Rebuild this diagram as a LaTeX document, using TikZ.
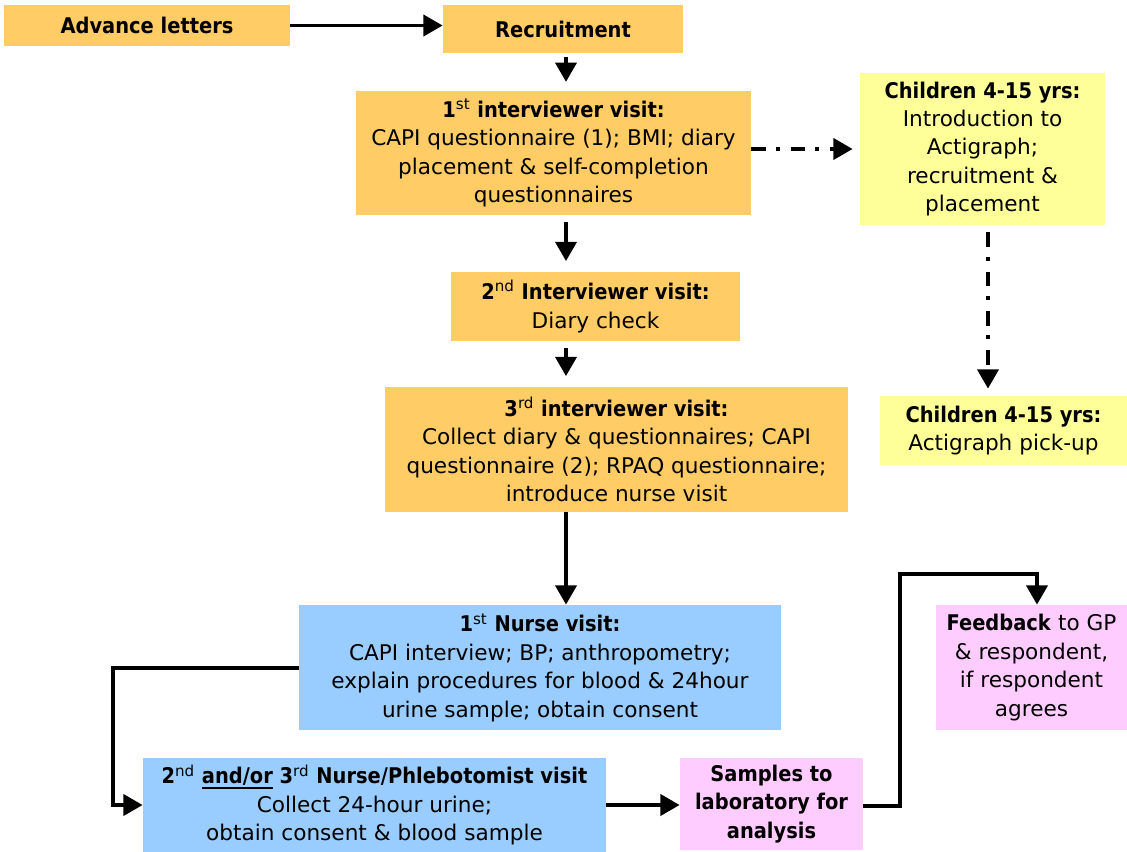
\documentclass[tikz,border=0pt]{standalone}
\usepackage{fontspec}
\setmainfont{DejaVu Sans}[BoldFeatures={FakeStretch=0.9}]
\usetikzlibrary{arrows.meta}

\definecolor{stageorange}{RGB}{255,204,102}
\definecolor{stageyellow}{RGB}{255,255,153}
\definecolor{stageblue}{RGB}{153,204,255}
\definecolor{stagepink}{RGB}{255,204,255}

\newcommand{\supx}[1]{\textsuperscript{\mdseries #1}}
\newcommand{\thickul}[1]{\setbox0\hbox{#1}\rlap{\rule[-3.2pt]{\wd0}{1.3pt}}#1}

\tikzset{
	stage/.style={inner sep=0pt, align=center, font=\fontsize{12.3}{16.2}\selectfont},
	boxsize/.style 2 args={minimum width=#1*0.02cm, minimum height=#2*0.02cm},
	link/.style={line width=2.2pt, -{Triangle[width=12pt,length=11pt]}},
	dotlink/.style={link, dash pattern=on 8.5pt off 5.5pt on 2.3pt off 6pt}
}

\begin{document}
\begin{tikzpicture}[x=0.02cm, y=-0.02cm]
		\useasboundingbox (0,0) rectangle (1127,852);

		% interviewer visits
		\draw (147,25.5) node[stage, fill=stageorange, boxsize={286}{41}] (letters) {\textbf{Advance letters}};
		\draw (563,29) node[stage, fill=stageorange, boxsize={240}{48}] (recruit) {\textbf{Recruitment}};
		\draw (553.5,153) node[stage, fill=stageorange, boxsize={395}{124}] (visit1) {\textbf{1\supx{st} interviewer visit:}\\CAPI questionnaire (1); BMI; diary\\placement \& self-completion\\questionnaires};
		\draw (595.5,306.5) node[stage, fill=stageorange, boxsize={289}{69}] (visit2) {\textbf{2\supx{nd} Interviewer visit:}\\Diary check};
		\draw (616.5,449.5) node[stage, fill=stageorange, boxsize={463}{125}] (visit3) {\textbf{3\supx{rd} interviewer visit:}\\Collect diary \& questionnaires; CAPI\\questionnaire (2); RPAQ questionnaire;\\introduce nurse visit};

		% children
		\draw (982.5,149) node[stage, fill=stageyellow, boxsize={245}{152}] (kids1) {\textbf{Children 4-15 yrs:}\\Introduction to\\Actigraph;\\recruitment \&\\placement};
		\draw (1003.5,430.5) node[stage, fill=stageyellow, boxsize={247}{69}] (kids2) {\textbf{Children 4-15 yrs:}\\Actigraph pick-up};

		% nurse visits
		\draw (540,667.5) node[stage, fill=stageblue, boxsize={482}{125}] (nurse1) {\textbf{1\supx{st} Nurse visit:}\\CAPI interview; BP; anthropometry;\\explain procedures for blood \& 24hour\\urine sample; obtain consent};
		\draw (374.5,805) node[stage, fill=stageblue, boxsize={463}{94}] (nurse2) {\textbf{2\supx{nd} \thickul{and/or} 3\supx{rd} Nurse/Phlebotomist visit}\\Collect 24-hour urine;\\obtain consent \& blood sample};

		% samples and feedback
		\draw (771.5,804) node[stage, fill=stagepink, boxsize={183}{92}] (samples) {\textbf{Samples to}\\\textbf{laboratory for}\\\textbf{analysis}};
		\draw (1031.5,667.5) node[stage, fill=stagepink, boxsize={191}{125}] (feedback) {\textbf{Feedback} to GP\\\& respondent,\\if respondent\\agrees};

		\coordinate (bend1) at (113,668);
		\coordinate (bend2) at (900,574);
		\coordinate (fbtop) at (1037,574);

		\draw [link] (letters.east) -- (letters.east -| recruit.west);
		\draw [link, shorten <=2pt, shorten >=5pt] (recruit.south -| 566,0) -- (visit1.north -| 566,0);
		\draw [link, shorten <=4pt, shorten >=6pt] (visit1.south -| 566,0) -- (visit2.north -| 566,0);
		\draw [link, shorten <=4pt, shorten >=6pt] (visit2.south -| 566,0) -- (visit3.north -| 566,0);
		\draw [link] (visit3.south -| 566,0) -- (nurse1.north -| 566,0);
		\draw [dotlink, shorten >=4pt] (visit1.east |- 0,149) -- (kids1.west |- 0,149);
		\draw [dotlink, shorten <=4pt, shorten >=4pt] (kids1.south -| 988,0) -- (kids2.north -| 988,0);
		\draw [link] (nurse1.west |- bend1) -- (bend1) |- (nurse2.west);
		\draw [link] (nurse2.east) -- (nurse2.east -| samples.west);
		\draw [link] (samples.east |- 0,806) -| (bend2) -- (fbtop) -- (fbtop |- feedback.north);
	\end{tikzpicture}
\end{document}
